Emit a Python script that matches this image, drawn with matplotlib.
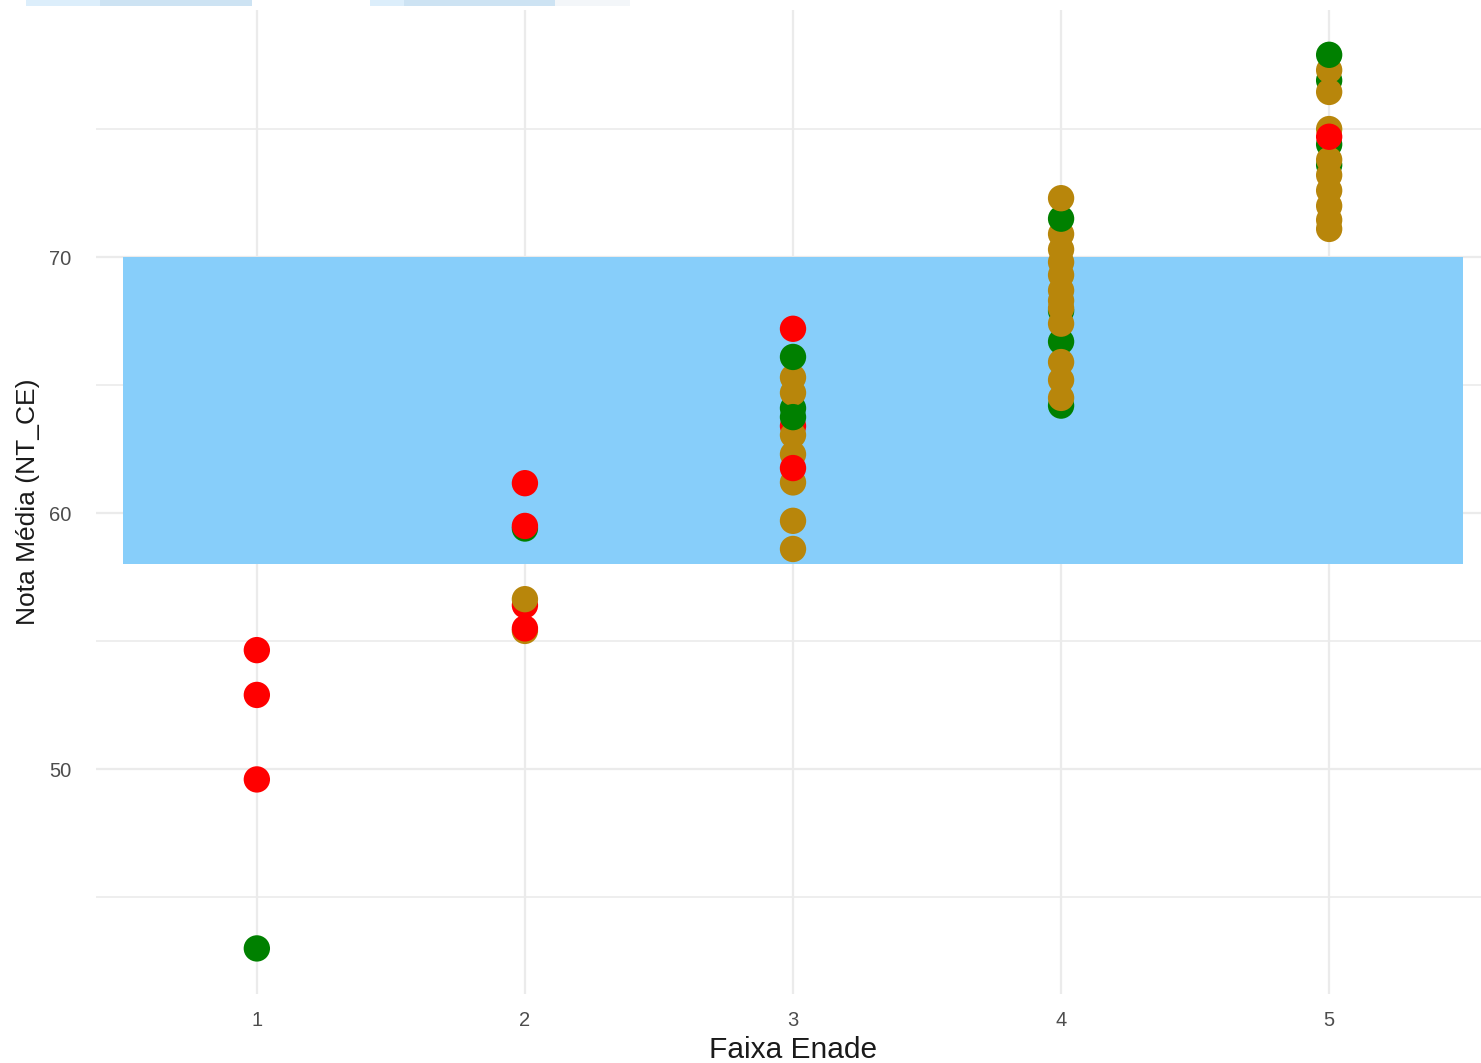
import matplotlib
matplotlib.use('Agg')
import matplotlib.pyplot as plt
from matplotlib.patches import Rectangle

plt.rcParams['font.family'] = ['Liberation Sans', 'DejaVu Sans']

# points in drawing order: faixa enade, nota media, grupo (cor)
faixa = [1, 1, 1, 1,
         2, 2, 2, 2, 2, 2, 2,
         3, 3, 3, 3, 3, 3, 3, 3, 3, 3, 3, 3, 3,
         4, 4, 4, 4, 4, 4, 4, 4, 4, 4, 4, 4, 4, 4, 4, 4,
         5, 5, 5, 5, 5, 5, 5, 5, 5, 5, 5, 5, 5, 5]
nota = [54.65, 52.9, 49.6, 43.0,
        59.4, 59.5, 61.17, 55.4, 55.5, 56.4, 56.64,
        64.1, 65.3, 64.7, 63.4, 63.05, 63.75, 62.3, 61.2, 61.76, 59.7, 58.6, 66.1, 67.2,
        67.9, 66.7, 64.2, 65.2, 65.9, 67.4, 68.3, 68.7, 69.3, 69.8, 70.3, 70.9, 71.5, 72.3, 68.0, 64.5,
        76.9, 77.3, 77.9, 76.45, 74.4, 73.6, 75.0, 73.8, 73.2, 72.6, 72.0, 71.45, 71.1, 74.7]
grupo = ['r', 'r', 'r', 'g',
         'g', 'r', 'r', 'o', 'r', 'r', 'o',
         'g', 'o', 'o', 'r', 'o', 'g', 'o', 'o', 'r', 'o', 'o', 'g', 'r',
         'g', 'g', 'g', 'o', 'o', 'o', 'o', 'o', 'o', 'o', 'o', 'o', 'g', 'o', 'o', 'o',
         'g', 'o', 'g', 'o', 'g', 'g', 'o', 'o', 'o', 'o', 'o', 'o', 'o', 'r']

faixa_ticks = [1, 2, 3, 4, 5]
faixa_min, faixa_max = 0.5, 5.5
nota_min, nota_max = 58, 70

cores = {'r': '#FF0000', 'g': '#008000', 'o': '#B8860B'}

fig = plt.figure(figsize=(14.81, 10.63), dpi=100)
ax = fig.add_axes([96 / 1481, 69 / 1063, 1394 / 1481, 984 / 1063])

# grid (theme_minimal look)
for v in [50, 60, 70]:
    ax.axhline(v, color='#EBEBEB', lw=1.6, zorder=0)
for v in [45, 55, 65, 75]:
    ax.axhline(v, color='#EBEBEB', lw=1.2, zorder=0)
for v in faixa_ticks:
    ax.axvline(v, color='#EBEBEB', lw=1.6, zorder=0)

ax.add_patch(Rectangle((faixa_min, nota_min), faixa_max - faixa_min, nota_max - nota_min,
                       facecolor='#87CEFA', edgecolor='none', zorder=1))

for i in range(len(nota)):
    ax.scatter(faixa[i], nota[i], s=360, color=cores[grupo[i]], edgecolors='none',
               marker='o', zorder=2 + i * 0.01)

ax.set_xlim(0.4, 5.6)
ax.set_ylim(41.22, 79.65)
ax.set_xticks(faixa_ticks)
ax.set_xticklabels([str(t) for t in faixa_ticks])
ax.set_yticks([50, 60, 70])
ax.tick_params(length=0, labelsize=14.5, labelcolor='#4D4D4D')
ax.tick_params(axis='y', pad=18)
ax.tick_params(axis='x', pad=12)
for s in ax.spines.values():
    s.set_visible(False)

ax.set_xlabel('Faixa Enade', fontsize=21.5, color='#1A1A1A', labelpad=4.5)
ax.set_ylabel('Nota Média (NT_CE)', fontsize=19, color='#1A1A1A', labelpad=6)

# light strip at very top (screenshot overlay)
for x0, x1, c in [(26, 100, '#DCEEFB'), (100, 252, '#CDE3F3'), (370, 404, '#DCEEFB'),
                  (404, 555, '#CDE3F3'), (555, 630, '#F3F6F9')]:
    fig.patches.append(Rectangle((x0 / 1481, 1 - 6 / 1063), (x1 - x0) / 1481, 6 / 1063,
                                 transform=fig.transFigure, facecolor=c, edgecolor='none'))

fig.savefig('out.png', dpi=100)
